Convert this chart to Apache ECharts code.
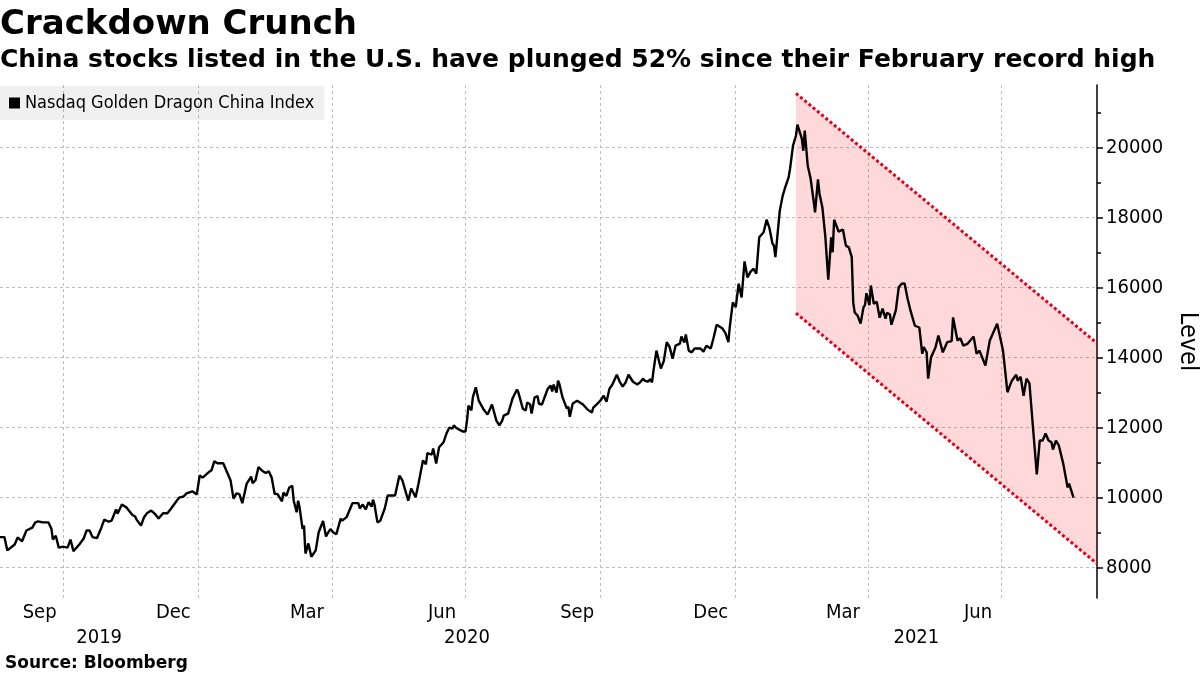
<!DOCTYPE html>
<html><head><meta charset="utf-8">
<script src="https://cdn.jsdelivr.net/npm/echarts@6/dist/echarts.min.js"></script>
<style>html,body{margin:0;padding:0;background:#fff}#c{width:1200px;height:675px}</style>
</head><body><div id="c"></div>
<script>
// ---- data ----
const seriesName = 'Nasdaq Golden Dragon China Index';
const dates = [
'2019-08-19','2019-08-22','2019-08-24','2019-08-29','2019-08-31','2019-09-03','2019-09-06','2019-09-10','2019-09-12','2019-09-14',
'2019-09-17','2019-09-21','2019-09-23','2019-09-24','2019-09-26','2019-09-28','2019-10-01','2019-10-04','2019-10-06','2019-10-07',
'2019-10-08','2019-10-12','2019-10-15','2019-10-17','2019-10-19','2019-10-21','2019-10-22','2019-10-24','2019-10-27','2019-10-29',
'2019-11-01','2019-11-03','2019-11-06','2019-11-07','2019-11-10','2019-11-13','2019-11-17','2019-11-19','2019-11-20','2019-11-23',
'2019-11-25','2019-11-27','2019-11-30','2019-12-03','2019-12-05','2019-12-08','2019-12-11','2019-12-13','2019-12-16','2019-12-19',
'2019-12-22','2019-12-24','2019-12-28','2019-12-31','2020-01-02','2020-01-04','2020-01-08','2020-01-10','2020-01-12','2020-01-14',
'2020-01-18','2020-01-21','2020-01-23','2020-01-25','2020-01-27','2020-01-29','2020-01-31','2020-02-03','2020-02-04','2020-02-06',
'2020-02-07','2020-02-09','2020-02-11','2020-02-14','2020-02-16','2020-02-18','2020-02-20','2020-02-22','2020-02-24','2020-02-27',
'2020-02-28','2020-03-01','2020-03-03','2020-03-05','2020-03-06','2020-03-08','2020-03-09','2020-03-10','2020-03-12','2020-03-13',
'2020-03-14','2020-03-16','2020-03-18','2020-03-21','2020-03-22','2020-03-23','2020-03-24','2020-03-26','2020-03-28','2020-03-29',
'2020-03-31','2020-04-02','2020-04-03','2020-04-04','2020-04-07','2020-04-08','2020-04-11','2020-04-15','2020-04-19','2020-04-20',
'2020-04-22','2020-04-24','2020-04-26','2020-04-28','2020-04-29','2020-04-30','2020-05-02','2020-05-04','2020-05-07','2020-05-09',
'2020-05-14','2020-05-15','2020-05-17','2020-05-19','2020-05-23','2020-05-25','2020-05-28','2020-05-30','2020-06-02','2020-06-04',
'2020-06-05','2020-06-08','2020-06-09','2020-06-11','2020-06-13','2020-06-16','2020-06-18','2020-06-20','2020-06-22','2020-06-23',
'2020-06-25','2020-06-26','2020-06-29','2020-07-01','2020-07-02','2020-07-03','2020-07-05','2020-07-06','2020-07-08','2020-07-10',
'2020-07-13','2020-07-14','2020-07-16','2020-07-19','2020-07-20','2020-07-22','2020-07-24','2020-07-26','2020-07-27','2020-07-30',
'2020-08-02','2020-08-05','2020-08-06','2020-08-09','2020-08-11','2020-08-12','2020-08-14','2020-08-15','2020-08-17','2020-08-19',
'2020-08-20','2020-08-22','2020-08-26','2020-08-28','2020-08-29','2020-08-30','2020-09-01','2020-09-02','2020-09-03','2020-09-05',
'2020-09-06','2020-09-08','2020-09-09','2020-09-10','2020-09-12','2020-09-15','2020-09-19','2020-09-22','2020-09-25','2020-09-26',
'2020-09-27','2020-09-29','2020-10-01','2020-10-03','2020-10-05','2020-10-07','2020-10-09','2020-10-12','2020-10-14','2020-10-16',
'2020-10-18','2020-10-20','2020-10-23','2020-10-26','2020-10-28','2020-10-30','2020-10-31','2020-11-02','2020-11-04','2020-11-05',
'2020-11-06','2020-11-08','2020-11-09','2020-11-11','2020-11-13','2020-11-15','2020-11-17','2020-11-19','2020-11-21','2020-11-24',
'2020-11-25','2020-11-27','2020-11-28','2020-11-30','2020-12-02','2020-12-04','2020-12-08','2020-12-10','2020-12-12','2020-12-15',
'2020-12-17','2020-12-19','2020-12-23','2020-12-25','2020-12-27','2020-12-28','2020-12-30','2021-01-01','2021-01-03','2021-01-05',
'2021-01-07','2021-01-09','2021-01-11','2021-01-13','2021-01-15','2021-01-17','2021-01-20','2021-01-22','2021-01-24','2021-01-26',
'2021-01-27','2021-01-28','2021-01-31','2021-02-02','2021-02-04','2021-02-06','2021-02-07','2021-02-09','2021-02-11','2021-02-12',
'2021-02-15','2021-02-16','2021-02-17','2021-02-19','2021-02-21','2021-02-23','2021-02-24','2021-02-26','2021-02-27','2021-03-01',
'2021-03-03','2021-03-04','2021-03-05','2021-03-07','2021-03-08','2021-03-09','2021-03-11','2021-03-12','2021-03-15','2021-03-17',
'2021-03-19','2021-03-21','2021-03-22','2021-03-23','2021-03-25','2021-03-27','2021-03-29','2021-03-30','2021-03-31','2021-04-02',
'2021-04-03','2021-04-05','2021-04-07','2021-04-09','2021-04-11','2021-04-13','2021-04-14','2021-04-16','2021-04-17','2021-04-20',
'2021-04-22','2021-04-24','2021-04-26','2021-04-28','2021-04-30','2021-05-03','2021-05-06','2021-05-08','2021-05-09','2021-05-11',
'2021-05-12','2021-05-14','2021-05-17','2021-05-19','2021-05-22','2021-05-25','2021-05-28','2021-05-29','2021-06-01','2021-06-03',
'2021-06-05','2021-06-08','2021-06-12','2021-06-14','2021-06-16','2021-06-20','2021-06-23','2021-06-28','2021-06-29','2021-07-02',
'2021-07-05','2021-07-08','2021-07-09','2021-07-11','2021-07-12','2021-07-14','2021-07-16','2021-07-18','2021-07-20','2021-07-25',
'2021-07-27','2021-07-29','2021-07-31','2021-08-02','2021-08-04','2021-08-05','2021-08-07','2021-08-09','2021-08-12','2021-08-15',
'2021-08-16','2021-08-17','2021-08-19'
];
const values = [
8870,8870,8490,8660,8860,8750,9060,9140,9290,9320,
9290,9290,9110,8800,8910,8570,8600,8570,8800,8780,
8470,8660,8830,9060,9060,8870,8910,8840,9140,9370,
9310,9340,9660,9540,9800,9720,9510,9460,9370,9200,
9430,9550,9630,9510,9400,9550,9550,9660,9830,10000,
10030,10120,10180,10090,10630,10570,10720,10780,11040,10980,
10980,10690,10490,9970,10120,10100,9840,10400,10430,10600,
10410,10500,10870,10750,10700,10750,10570,10110,10100,9890,
10140,10050,10290,10340,9910,9580,9910,9720,9110,9200,
8400,8690,8310,8490,8490,9010,9060,9330,8890,8970,
9100,9000,9050,8950,9400,9340,9440,9840,9840,9690,
9800,9660,9870,9740,9940,9800,9290,9340,9690,10060,
10060,10100,10630,10490,9910,10260,10010,10400,11060,10950,
11270,11230,11400,10970,11440,11580,11830,12000,11970,12060,
11980,11990,11890,11890,12200,12630,12490,12870,13150,12770,
12540,12570,12370,12660,12510,12200,12060,12200,12340,12400,
12830,13090,13000,12540,12490,12720,12660,12400,12860,12900,
12680,12660,13110,13200,13030,13230,13000,13340,13230,12870,
12850,12540,12600,12310,12690,12770,12660,12520,12430,12570,
12520,12690,12780,12910,12740,13110,13230,13510,13310,13170,
13290,13510,13310,13230,13300,13400,13340,13310,13380,13290,
13630,14200,14170,13690,13900,14440,14300,13970,14340,14400,
14600,14430,14660,14200,14150,14260,14260,14170,14340,14260,
14580,14940,14830,14700,14440,14900,15580,15440,16110,15720,
16750,16290,16450,16540,16400,17440,17580,17940,17690,17260,
17200,16870,18200,18630,18910,19150,19400,20060,20340,20660,
20260,19910,20490,19490,19110,18490,18150,19090,18690,18290,
17460,17430,16230,17440,17010,17940,17720,17600,17660,17200,
17150,16870,15580,15290,15200,14970,15440,15500,15840,15500,
16060,15540,15600,15140,15400,15110,15280,15230,14940,15350,
16010,16110,16120,15690,15340,14910,14860,14110,14300,14150,
13400,14010,14290,14630,14150,14440,14470,15150,14490,14550,
14340,14400,14600,14110,14200,13770,14490,14970,14930,14200,
13010,13340,13350,13510,13340,13450,12910,13400,13260,10660,
11630,11630,11830,11630,11580,11370,11630,11490,10970,10290,
10400,10370,10000
];
// downtrend channel drawn on the chart
const bandDates = ['2021-02-11', '2021-09-04'];
const bandUpper = [21550, 14410];
const bandLower = [15270, 8110];
// axes
const xStart = '2019-08-19';
const xEnd = '2021-09-04';
const yMin = 7130;
const yMax = 21790;
const yLabelValues = [8000, 10000, 12000, 14000, 16000, 18000, 20000];
const yMinorValues = [9000, 11000, 13000, 15000, 17000, 19000, 21000];
const monthLabelDates = ['2019-09-15','2019-12-15','2020-03-15','2020-06-15','2020-09-15','2020-12-15','2021-03-15','2021-06-15'];
const monthNames = ['Jan','Feb','Mar','Apr','May','Jun','Jul','Aug','Sep','Oct','Nov','Dec'];
const quarterGridDates = ['2019-10-01','2020-01-01','2020-04-01','2020-07-01','2020-10-01','2021-01-01','2021-04-01','2021-07-01'];
const years = [2019, 2020, 2021];

// ---- build ----
const ts = s => { const p = String(s).split('-').map(Number); return Date.UTC(p[0], (p[1] || 1) - 1, p[2] || 1); };
const x0 = ts(xStart), x1 = ts(xEnd);
const yearCenters = years.map(y => {
  const a = Math.max(ts(y + '-01-01'), x0);
  const b = Math.min(ts((y + 1) + '-01-01'), x1);
  return (a + b) / 2;
});
const lineData = dates.map((d, i) => [ts(d), values[i]]);
const upperData = bandDates.map((d, i) => [ts(d), bandUpper[i]]);
const lowerData = bandDates.map((d, i) => [ts(d), bandLower[i]]);

const FONT = 'DejaVu Sans Condensed';
const gridLine = { show: true, lineStyle: { color: '#bdbdbd', width: 1, type: [3, 3] } };
const redDots = { color: '#e3001b', width: 3, type: [3, 2.5] };

const chart = echarts.init(document.getElementById('c'), null, { renderer: 'canvas' });
chart.setOption({
  animation: false,
  backgroundColor: '#ffffff',
  title: [
    { text: 'Crackdown Crunch', left: 0, top: 8, padding: 0,
      textStyle: { fontFamily: 'DejaVu Sans', fontWeight: 'bold', fontSize: 34, color: '#000' } },
    { text: 'China stocks listed in the U.S. have plunged 52% since their February record high', left: 0, top: 48, padding: 0,
      textStyle: { fontFamily: 'DejaVu Sans', fontWeight: 'bold', fontSize: 25, color: '#000' } },
    { text: 'Source: Bloomberg', left: 5, top: 655, padding: 0,
      textStyle: { fontFamily: 'DejaVu Sans', fontWeight: 'bold', fontSize: 17, color: '#000' } }
  ],
  legend: {
    data: [seriesName], left: 0, top: 86, padding: [8, 10, 8, 9],
    backgroundColor: 'rgba(0,0,0,0.06)', icon: 'rect', itemWidth: 11, itemHeight: 11, itemGap: 4,
    textStyle: { fontFamily: FONT, fontSize: 18, color: '#000' },
    selectedMode: false
  },
  grid: { left: 0, right: 103, top: 85, bottom: 77, containLabel: false, outerBoundsMode: 'none' },
  xAxis: [
    { type: 'value', min: x0, max: x1, position: 'bottom',
      axisLine: { show: false },
      axisTick: { show: false, customValues: quarterGridDates.map(ts) },
      splitLine: gridLine,
      axisLabel: { customValues: monthLabelDates.map(ts), margin: 5, fontFamily: FONT, fontSize: 20, color: '#000',
        formatter: v => monthNames[new Date(v).getUTCMonth()] } },
    { type: 'value', min: x0, max: x1, position: 'bottom',
      axisLine: { show: false }, axisTick: { show: false }, splitLine: { show: false },
      axisLabel: { customValues: yearCenters, margin: 30, fontFamily: FONT, fontSize: 20, color: '#000',
        formatter: v => String(new Date(v).getUTCFullYear()) } }
  ],
  yAxis: [
    { type: 'value', position: 'right', min: yMin, max: yMax,
      axisLine: { show: true, lineStyle: { color: '#000', width: 1.5 } },
      axisTick: { show: true, customValues: yLabelValues, length: 6, lineStyle: { color: '#000', width: 1.5 } },
      axisLabel: { customValues: yLabelValues, margin: 9, fontFamily: FONT, fontSize: 20, color: '#000',
        formatter: v => String(v) },
      splitLine: gridLine,
      name: 'Level', nameLocation: 'middle', nameRotate: -90, nameGap: 78,
      nameTextStyle: { fontFamily: FONT, fontSize: 25, color: '#000' } },
    { type: 'value', position: 'right', min: yMin, max: yMax,
      axisLine: { show: false },
      axisTick: { show: true, customValues: yMinorValues, length: 4, lineStyle: { color: '#000', width: 1.5 } },
      axisLabel: { show: false }, splitLine: { show: false } }
  ],
  series: [
    { type: 'custom', name: 'channel', silent: true, z: 1, data: [0],
      renderItem: (params, api) => {
        const pts = [
          api.coord(upperData[0]), api.coord(upperData[1]),
          api.coord(lowerData[1]), api.coord(lowerData[0])
        ];
        return { type: 'polygon', shape: { points: pts }, style: { fill: 'rgba(255,0,0,0.15)' } };
      } },
    { type: 'line', name: 'channelUpper', data: upperData, symbol: 'none', silent: true, lineStyle: redDots, z: 2 },
    { type: 'line', name: 'channelLower', data: lowerData, symbol: 'none', silent: true, lineStyle: redDots, z: 2 },
    { type: 'line', name: seriesName, data: lineData, symbol: 'none', color: '#000',
      lineStyle: { color: '#000', width: 2.4 }, z: 3 }
  ]
});
</script>
</body></html>
